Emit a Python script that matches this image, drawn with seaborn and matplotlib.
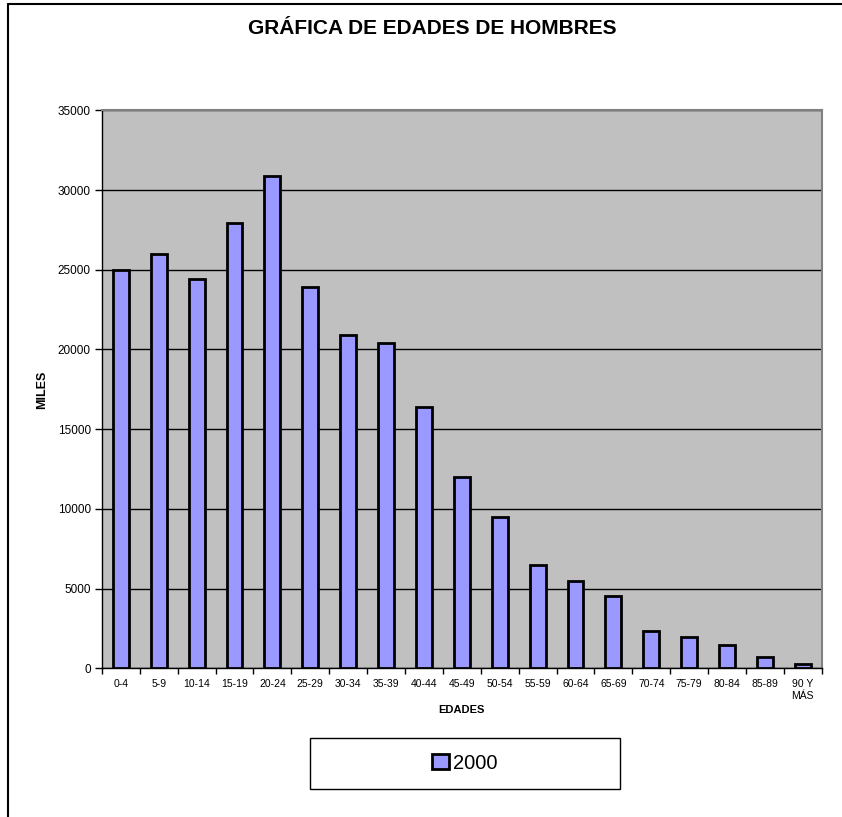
import numpy as np
import pandas as pd
import matplotlib
matplotlib.use('Agg')
import matplotlib.pyplot as plt
import seaborn as sns
from matplotlib.patches import Rectangle
from matplotlib.lines import Line2D

edades = ['0-4', '5-9', '10-14', '15-19', '20-24', '25-29', '30-34', '35-39',
          '40-44', '45-49', '50-54', '55-59', '60-64', '65-69', '70-74',
          '75-79', '80-84', '85-89', '90 Y\nMÁS']
miles_2000 = [25000, 26000, 24400, 27900, 30900, 23900, 20900, 20400,
              16400, 12000, 9500, 6500, 5500, 4550, 2350, 1950, 1450, 700, 250]
y_ticks = [0, 5000, 10000, 15000, 20000, 25000, 30000, 35000]

df = pd.DataFrame({'edad': edades, 'miles': miles_2000, 'serie': '2000'})

sns.set_style('white')
plt.rcParams['font.family'] = ['Liberation Sans', 'DejaVu Sans']
plt.rcParams.update({'text.color': 'black', 'axes.labelcolor': 'black',
                     'xtick.color': 'black', 'ytick.color': 'black'})

fig = plt.figure(figsize=(8.42, 8.17), dpi=100)
ax = fig.add_axes([0.121, 0.182, 0.855, 0.683])

sns.barplot(data=df, x='edad', y='miles', hue='serie', palette=['#9999FF'],
            saturation=1, width=0.42, edgecolor='black', linewidth=2,
            legend=False, ax=ax, zorder=3)

ax.set_facecolor('#C0C0C0')
ax.set_ylim(0, 35000)
ax.set_xlim(-0.5, len(edades) - 0.5)
ax.set_yticks(y_ticks)
ax.yaxis.grid(True, color='black', linewidth=1)
ax.set_axisbelow(True)
for s in ['top', 'right']:
    ax.spines[s].set_color('#808080')
    ax.spines[s].set_linewidth(1.5)
for s in ['left', 'bottom']:
    ax.spines[s].set_color('black')
    ax.spines[s].set_linewidth(1)

ax.tick_params(axis='y', labelsize=8.5, length=5, width=1, direction='out',
               left=True, pad=3)
ax.tick_params(axis='x', which='major', labelsize=7.5, length=0, pad=8)
ax.set_xticks(np.arange(-0.5, len(edades), 1), minor=True)
ax.tick_params(axis='x', which='minor', length=4, width=1, direction='out',
               bottom=True)

ax.set_ylabel('')
ax.set_xlabel('EDADES', fontsize=8, fontweight='bold')
ax.xaxis.set_label_coords(0.5, -0.066)

fig.text(0.513, 0.965, 'GRÁFICA DE EDADES DE HOMBRES', ha='center', va='center',
         fontsize=15, fontweight='bold')
fig.text(0.05, 0.523, 'MILES', rotation=90, ha='center', va='center',
         fontsize=9, fontweight='bold')

# legend box
fig.patches.append(Rectangle((0.368, 0.034), 0.368, 0.0624, transform=fig.transFigure,
                             facecolor='white', edgecolor='black', linewidth=1))
handle = Rectangle((0, 0), 1, 1, facecolor='#9999FF', edgecolor='black', linewidth=2)
fig.legend([handle], ['2000'], loc='center', bbox_to_anchor=(0.552, 0.066),
           frameon=False, fontsize=14.5, handlelength=0.8, handleheight=0.8,
           handletextpad=0.2)

# outer chart border
fig.lines.append(Line2D([0.0095, 0.0095], [0, 0.995], transform=fig.transFigure,
                        color='black', linewidth=1.5))
fig.lines.append(Line2D([0.0095, 1], [0.995, 0.995], transform=fig.transFigure,
                        color='black', linewidth=1.5))

fig.savefig('out.png', dpi=100)
